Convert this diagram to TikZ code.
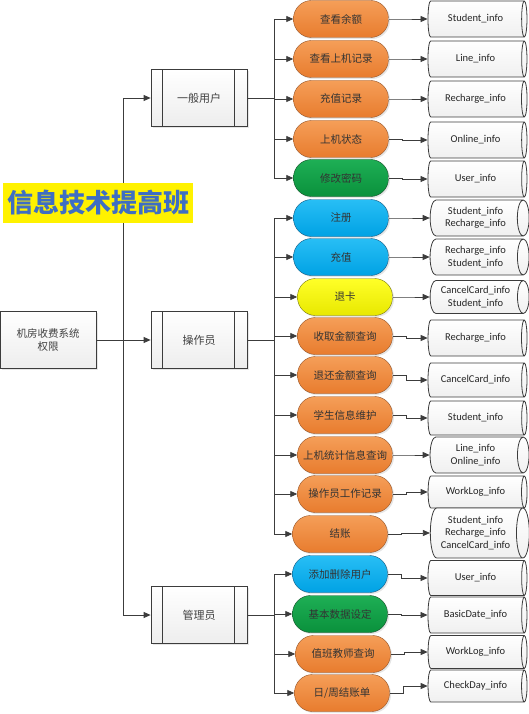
\documentclass[tikz,border=0pt]{standalone}
\usepackage{fontspec}
\setmainfont{Carlito}
\newfontfamily\cjk{Noto Sans CJK SC}
\usetikzlibrary{shapes.geometric, arrows.meta, shadows}

\definecolor{orangetop}{RGB}{245,158,88}
\definecolor{orangebot}{RGB}{232,124,46}
\definecolor{orangeline}{RGB}{150,85,40}
\definecolor{bluetop}{RGB}{40,190,245}
\definecolor{bluebot}{RGB}{0,162,228}
\definecolor{blueline}{RGB}{20,90,130}
\definecolor{greentop}{RGB}{30,175,85}
\definecolor{greenbot}{RGB}{10,145,60}
\definecolor{greenline}{RGB}{20,80,40}
\definecolor{yellowtop}{RGB}{255,255,40}
\definecolor{yellowbot}{RGB}{232,232,0}
\definecolor{yellowline}{RGB}{120,120,20}
\definecolor{titleblue}{RGB}{62,110,195}
\definecolor{wire}{RGB}{60,60,60}

\begin{document}
\begin{tikzpicture}[x=1pt, y=-1pt, >={Triangle[length=7pt,width=6pt]},
    link/.style={draw=wire, line width=0.8pt},
    arr/.style={link, ->},
    role/.style={draw=wire, line width=0.8pt, rectangle, minimum width=96pt, minimum height=57pt, align=center,
        top color=white, bottom color=gray!14, drop shadow={opacity=0.2, shadow xshift=1.5pt, shadow yshift=-1.5pt},
        font=\cjk\fontsize{10.5}{13}\selectfont, text=black!75},
    leaf/.style={draw, rectangle, rounded corners=18pt, minimum width=95pt, minimum height=37pt, inner sep=0pt,
        drop shadow={opacity=0.2, shadow xshift=1.5pt, shadow yshift=-1.5pt},
        font=\cjk\fontsize{10.5}{13}\selectfont, text=black!80},
    orangeleaf/.style={leaf, top color=orangetop, bottom color=orangebot, draw=orangeline},
    blueleaf/.style={leaf, top color=bluetop, bottom color=bluebot, draw=blueline},
    greenleaf/.style={leaf, top color=greentop, bottom color=greenbot, draw=greenline},
    yellowleaf/.style={leaf, top color=yellowtop, bottom color=yellowbot, draw=yellowline},
    store/.style={draw=wire, line width=0.8pt, cylinder, aspect=0.5, minimum height=99pt, minimum width=36pt,
        inner sep=1pt, align=center, top color=white, bottom color=gray!12,
        font=\fontsize{10.5}{12.5}\selectfont, text=black!85}]

\useasboundingbox (0,0) rectangle (529,714);

% root and roles
\node[role] (sys) at (48,340) {机房收费系统\\权限};
\node[role, font=\cjk\fontsize{11}{13}\selectfont] (user) at (199,98) {一般用户};
\node[role, font=\cjk\fontsize{11}{13}\selectfont] (oper) at (199,340) {操作员};
\node[role, font=\cjk\fontsize{11}{13}\selectfont] (admin) at (199,615) {管理员};
\foreach \r in {user, oper, admin} {
  \draw[link] ([xshift=12pt]\r.north west) -- ([xshift=12pt]\r.south west);
  \draw[link] ([xshift=-13pt]\r.north east) -- ([xshift=-13pt]\r.south east);
}

% functions
\node[orangeleaf] (l1) at (341,19) {查看余额};
\node[orangeleaf] (l2) at (341,59) {查看上机记录};
\node[orangeleaf] (l3) at (341,99) {充值记录};
\node[orangeleaf] (l4) at (341,139) {上机状态};
\node[greenleaf] (l5) at (341,178) {修改密码};
\node[blueleaf] (l6) at (341,218) {注册};
\node[blueleaf] (l7) at (341,257) {充值};
\node[yellowleaf] (l8) at (345,297) {退卡};
\node[orangeleaf] (l9) at (345,336) {收取金额查询};
\node[orangeleaf] (l10) at (345,375) {退还金额查询};
\node[orangeleaf] (l11) at (345,415) {学生信息维护};
\node[orangeleaf] (l12) at (345,455) {上机统计信息查询};
\node[orangeleaf] (l13) at (345,494) {操作员工作记录};
\node[orangeleaf] (l14) at (340,534) {结账};
\node[blueleaf] (l15) at (340,574) {添加删除用户};
\node[greenleaf] (l16) at (340,614) {基本数据设定};
\node[orangeleaf] (l17) at (343,654) {值班教师查询};
\node[orangeleaf] (l18) at (342,693) {日/周结账单};

% tables
\node[store] (c1) at (475.5,19) {Student\_info};
\node[store] (c2) at (475.5,59) {Line\_info};
\node[store] (c3) at (475.5,99) {Recharge\_info};
\node[store] (c4) at (475.5,140) {Online\_info};
\node[store] (c5) at (475.5,179) {User\_info};
\node[store] (c6) at (475.5,218) {Student\_info\\Recharge\_info};
\node[store] (c7) at (475.5,257) {Recharge\_info\\Student\_info};
\node[store, minimum width=33pt] (c8) at (475.5,297) {CancelCard\_info\\Student\_info};
\node[store] (c9) at (475.5,338) {Recharge\_info};
\node[store, minimum width=34pt] (c10) at (475.5,380) {CancelCard\_info};
\node[store, minimum width=34pt] (c11) at (475.5,418) {Student\_info};
\node[store] (c12) at (475.5,455) {Line\_info\\Online\_info};
\node[store, minimum width=32pt] (c13) at (475.5,492) {WorkLog\_info};
\node[store, minimum width=50pt, aspect=0.36] (c14) at (475.5,533) {Student\_info\\Recharge\_info\\CancelCard\_info};
\node[store, minimum width=35pt] (c15) at (475.5,578) {User\_info};
\node[store] (c16) at (475.5,615) {BasicDate\_info};
\node[store, minimum width=33pt] (c17) at (475.5,652) {WorkLog\_info};
\node[store, minimum width=32pt] (c18) at (475.5,686) {CheckDay\_info};

% wiring
\coordinate (hub) at (123,340);
\draw[arr] (sys) -- (oper);
\draw[link] (hub |- user.west) -- (hub |- admin.west);
\draw[arr] (hub |- user.west) -- (user.west);
\draw[arr] (hub |- admin.west) -- (admin.west);

\coordinate (b1) at (274,98);
\coordinate (b2) at (274,340);
\coordinate (b3) at (274,615);
\draw[link] (user.east) -- (b1);
\draw[link] (oper.east) -- (b2);
\draw[link] (admin.east) -- (b3);
\draw[link] (b1 |- l1.west) -- (b1 |- l5.west);
\draw[link] (b2 |- l6.west) -- (b2 |- l14.west);
\draw[link] (b3 |- l15.west) -- (b3 |- l18.west);
\foreach \i in {1,...,5} \draw[arr] (b1 |- l\i.west) -- (l\i.west);
\foreach \i in {6,...,14} \draw[arr] (b2 |- l\i.west) -- (l\i.west);
\foreach \i in {15,...,18} \draw[arr] (b3 |- l\i.west) -- (l\i.west);
\foreach \i in {1,...,18} \draw[arr] (l\i.east) -- ++(14,0) |- (c\i.west);

% banner
\node[fill=yellow, minimum width=190pt, minimum height=40pt, inner sep=0pt, text=titleblue,
    font=\cjk\bfseries\fontsize{26}{28}\selectfont] (title) at (98,203) {信息技术提高班};
\end{tikzpicture}
\end{document}
